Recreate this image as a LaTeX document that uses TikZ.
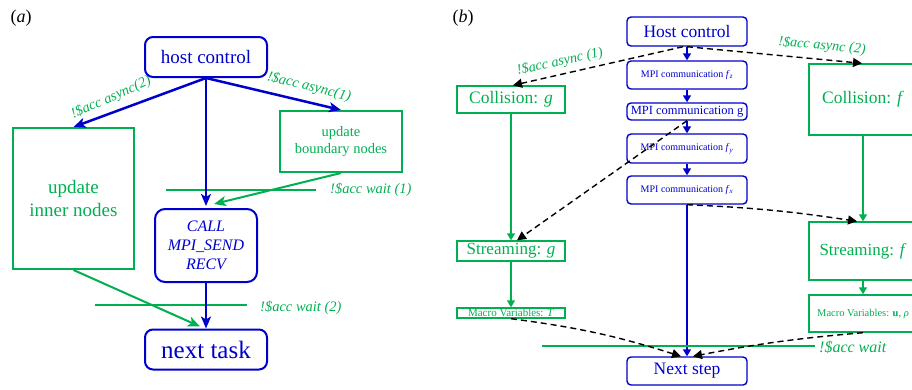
\documentclass[tikz,border=0pt]{standalone}
\usepackage{fontspec}
\setmainfont{Liberation Serif}
\usetikzlibrary{arrows.meta}
\definecolor{myblue}{RGB}{0,0,205}
\definecolor{mygreen}{RGB}{0,176,80}
\newcommand{\fsz}[1]{\fontsize{#1}{#1}\selectfont}
\begin{document}
\begin{tikzpicture}[x=1pt,y=-1pt,
  ba/.style={draw=myblue, line width=2pt, rounded corners=8pt, text=myblue, inner sep=0pt, align=center},
  ga/.style={draw=mygreen, line width=2pt, text=mygreen, inner sep=0pt, align=center},
  bb/.style={draw=myblue, line width=1.4pt, rounded corners=4pt, text=myblue, inner sep=0pt, align=center},
  gb/.style={draw=mygreen, line width=1.4pt, text=mygreen, inner sep=0pt, align=center},
  barrow/.style={draw=myblue, line width=2.5pt, -{Stealth[length=12pt,width=10pt,inset=3pt]}},
  garrow/.style={draw=mygreen, line width=2pt, -{Stealth[length=12pt,width=10pt,inset=3pt]}},
  bbarrow/.style={draw=myblue, line width=1.4pt, -{Triangle[length=7pt,width=8pt]}},
  gbarrow/.style={draw=mygreen, line width=1.4pt, -{Triangle[length=7pt,width=8pt]}},
  dasharr/.style={draw=black, line width=1.4pt, dash pattern=on 6pt off 4pt, -{Triangle[length=9pt,width=9pt]}},
  waitline/.style={draw=mygreen, line width=2pt},
  lab/.style={text=mygreen, inner sep=0pt},
  panel/.style={inner sep=0pt, font=\fsz{18}}
]
\useasboundingbox (0,0) rectangle (912,389);
\clip (0,0) rectangle (912,389);

% ---------------- (a) ----------------
\node[panel] (pa) at (21,18) {(\textit{a})};
\node[ba, minimum width=122, minimum height=40, font=\fsz{19}] (hc) at (206,57) {host control};
\node[ga, minimum width=121, minimum height=141, font=\fsz{19}, text depth=0pt] (inner) at (73.5,198.5) {update\\[4pt]inner nodes};
\node[ga, minimum width=122, minimum height=61, font=\fsz{14.5}] (bound) at (341,141.5) {update\\[3pt]boundary nodes};
\node[ba, rounded corners=10pt, minimum width=102, minimum height=73, font=\itshape\fsz{16}] (call) at (206,245.5) {CALL\\[3pt]MPI\_SEND\\[3pt]RECV};
\node[ba, minimum width=122, minimum height=40, font=\fsz{25}] (next) at (206,349.5) {next task};

\coordinate (w1a) at (166,190);
\coordinate (w1b) at (316,190);
\coordinate (w2a) at (95,305);
\coordinate (w2b) at (247,305);
\draw[waitline] (w1a) -- (w1b);
\draw[waitline] (w2a) -- (w2b);
\node[lab, anchor=west, font=\itshape\fsz{14.5}] (lw1) at (330,190) {!\$acc wait (1)};
\node[lab, anchor=west, font=\itshape\fsz{14.5}] (lw2) at (260,308) {!\$acc wait (2)};

\draw[barrow] (hc.south) -- (inner.north);
\draw[barrow] (hc.south) -- (bound.north);
\draw[barrow] (hc.south) -- ([yshift=2pt]call.north);
\draw[garrow] (bound.south) -- ([xshift=8pt,yshift=4pt]call.north);
\draw[garrow] (inner.south) -- ([xshift=-6pt,yshift=2pt]next.north);
\draw[barrow] (call.south) -- (next.north);

\node[lab, rotate=24, font=\itshape\fsz{14.5}] (la2) at (111,98) {!\$acc async(2)};
\node[lab, rotate=-14, font=\itshape\fsz{14.5}] (la1) at (309,87) {!\$acc async(1)};

% ---------------- (b) ----------------
\node[panel] (pb) at (463,18) {(\textit{b})};
\node[bb, minimum width=120, minimum height=29, font=\fsz{17.5}] (Hc) at (687,31.5) {Host control};
\node[bb, minimum width=120, minimum height=28, font=\fsz{10}] (fz) at (687,75) {MPI communication \textit{f}\textsubscript{\textit{z}}};
\node[bb, minimum width=120, minimum height=17, font=\fsz{12.5}] (mg) at (687,111.5) {MPI communication g};
\node[bb, minimum width=120, minimum height=29, font=\fsz{10}] (fy) at (687,148.5) {MPI communication \textit{f}\textsubscript{\textit{y}}};
\node[bb, minimum width=120, minimum height=28, font=\fsz{10}] (fx) at (687,190) {MPI communication \textit{f}\textsubscript{\textit{x}}};
\node[bb, minimum width=120, minimum height=28, font=\fsz{17.5}] (ns) at (687,371) {Next step};

\node[gb, minimum width=108, minimum height=27, font=\fsz{17.5}] (colg) at (511,99.5) {Collision: \textit{g}};
\node[gb, minimum width=108, minimum height=20, font=\fsz{17}] (strg) at (511,251) {Streaming: \textit{g}};
\node[gb, minimum width=108, minimum height=10, font=\fsz{11}] (macT) at (511,313) {Macro Variables: \textit{T}};
\node[gb, minimum width=108, minimum height=71, font=\fsz{17.5}] (colf) at (863,99.5) {Collision: \textit{f}};
\node[gb, minimum width=108, minimum height=58, font=\fsz{17}] (strf) at (863,251) {Streaming: \textit{f}};
\node[gb, minimum width=108, minimum height=37, font=\fsz{10.5}] (macU) at (863,313.5) {Macro Variables: \textbf{u}, \textit{ρ}};

\draw[bbarrow] (Hc.south) -- (fz.north);
\draw[bbarrow] (fz.south) -- (mg.north);
\draw[bbarrow] (mg.south) -- (fy.north);
\draw[bbarrow] (fy.south) -- (fx.north);
\draw[bbarrow] (fx.south) -- (ns.north);

\draw[gbarrow] (colg.south) -- (strg.north);
\draw[gbarrow] (strg.south) -- (macT.north);
\draw[gbarrow] (colf.south) -- (strf.north);
\draw[gbarrow] (strf.south) -- (macU.north);

\coordinate (wba) at (542,346);
\coordinate (wbb) at (815,346);
\draw[draw=mygreen, line width=1.4pt] (wba) -- (wbb);
\node[lab, anchor=west, font=\itshape\fsz{16}] (lwb) at (819,347) {!\$acc wait};

\draw[dasharr] ([xshift=-4pt]Hc.south) -- ([xshift=2pt]colg.north);
\draw[dasharr] (Hc.south) -- ([xshift=-1pt]colf.north);
\draw[dasharr] (mg.south) -- ([xshift=6pt]strg.north);
\draw[dasharr] (fx.south) to[bend left=3] ([xshift=-6pt]strf.north);
\draw[dasharr] (macT.south) to[bend left=5] ([xshift=-6pt]ns.north);
\draw[dasharr] (macU.south) to[bend right=3] ([xshift=6pt]ns.north);

\node[lab, rotate=12, font=\itshape\fsz{14.2}] (lb1) at (560,62) {!\$acc async (1)};
\node[lab, rotate=-5, font=\itshape\fsz{14.2}] (lb2) at (822,46) {!\$acc async (2)};
\end{tikzpicture}
\end{document}
